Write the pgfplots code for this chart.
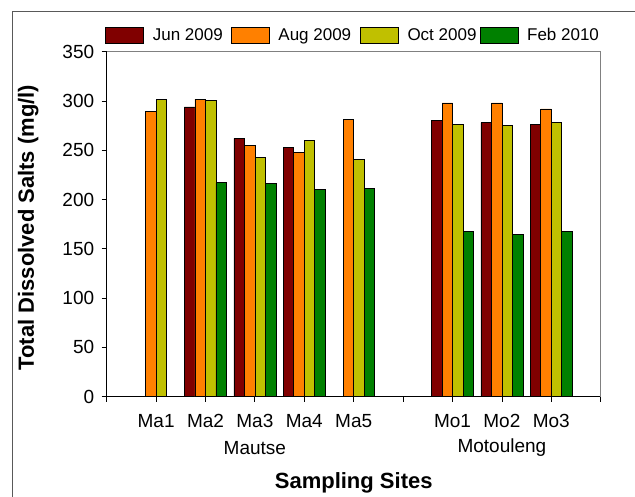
\documentclass[border=0pt]{standalone}
\usepackage{pgfplots}
\pgfplotsset{compat=1.18}
\usepackage{fontspec}
\setmainfont{Liberation Sans}
\definecolor{cJun}{HTML}{800000}
\definecolor{cAug}{HTML}{FF8000}
\definecolor{cOct}{HTML}{C0C000}
\definecolor{cFeb}{HTML}{008000}
\begin{document}
\begin{tikzpicture}
\useasboundingbox (-106.7pt,-99.3pt) rectangle (528.3pt,396.7pt);
\draw[gray!70!black, line width=0.9pt] (-94.7pt,-140pt) -- (-94.7pt,385.2pt) -- (560pt,385.2pt);
\begin{axis}[
  at={(0pt,0pt)}, anchor=south west,
  scale only axis, width=494pt, height=345pt,
  xmin=0, xmax=10, ymin=0, ymax=350,
  axis lines=left, axis line style={-, line width=1pt, black},
  xtick={0,1,2,3,4,5,6,7,8,9,10},
  xticklabels={,Ma1,Ma2,Ma3,Ma4,Ma5,,Mo1,Mo2,Mo3,},
  ytick={0,50,100,150,200,250,300,350},
  tick align=outside, major tick length=5pt,
  tick style={black, line width=0.8pt},
  /pgf/number format/assume math mode=true,
  ticklabel style={font=\fontsize{19}{21}\selectfont},
  xticklabel style={yshift=-9pt},
  yticklabel style={xshift=-4pt},
  ybar=0pt, bar width=10.5pt,
  xlabel={\fontsize{22}{24}\selectfont\bfseries Sampling Sites},
  ylabel={\fontsize{22}{24}\selectfont\bfseries Total Dissolved Salts (mg/l)},
  xlabel style={at={(axis description cs:0.5,0)}, anchor=center, yshift=-86pt},
  ylabel style={at={(axis description cs:-0.159,0.49)}, anchor=center},
  legend columns=4,
  legend cell align=left,
  legend style={at={(-0.0034,1.0484)}, anchor=west, draw=none, fill=none,
    inner sep=0pt, font=\fontsize{17}{19}\selectfont,
    /tikz/column sep=0pt,
    /tikz/every odd column/.append style={column sep=8.8pt},
    nodes={inner sep=0pt}},
  legend image code/.code={\draw[#1, line width=0.8pt] (0pt,-8pt) rectangle (38pt,8pt);},
  clip=false,
]
\addplot[fill=cJun, draw=black, line width=0.7pt] coordinates {(2,294) (3,262) (4,253) (7,280) (8,278) (9,276)};
\addlegendentry{\makebox[78pt][l]{Jun 2009}}
\addplot[fill=cAug, draw=black, line width=0.7pt] coordinates {(1,289) (2,302) (3,255) (4,248) (5,281) (7,298) (8,298) (9,292)};
\addlegendentry{\makebox[81.5pt][l]{Aug 2009}}
\addplot[fill=cOct, draw=black, line width=0.7pt] coordinates {(1,302) (2,301) (3,243) (4,260) (5,241) (7,276) (8,275) (9,278)};
\addlegendentry{\makebox[72pt][l]{Oct 2009}}
\addplot[fill=cFeb, draw=black, line width=0.7pt] coordinates {(2,217) (3,216) (4,210) (5,211) (7,168) (8,165) (9,168)};
\addlegendentry{Feb 2010}
\draw[gray, line width=0.8pt] (rel axis cs:0,1) -- (rel axis cs:1,1) -- (rel axis cs:1,0);
\node[font=\fontsize{19}{21}\selectfont, anchor=center] at (axis cs:3,0) [yshift=-51pt] {Mautse};
\node[font=\fontsize{19}{21}\selectfont, anchor=center] at (axis cs:8,0) [yshift=-51pt] {Motouleng};
\end{axis}
\end{tikzpicture}
\end{document}
